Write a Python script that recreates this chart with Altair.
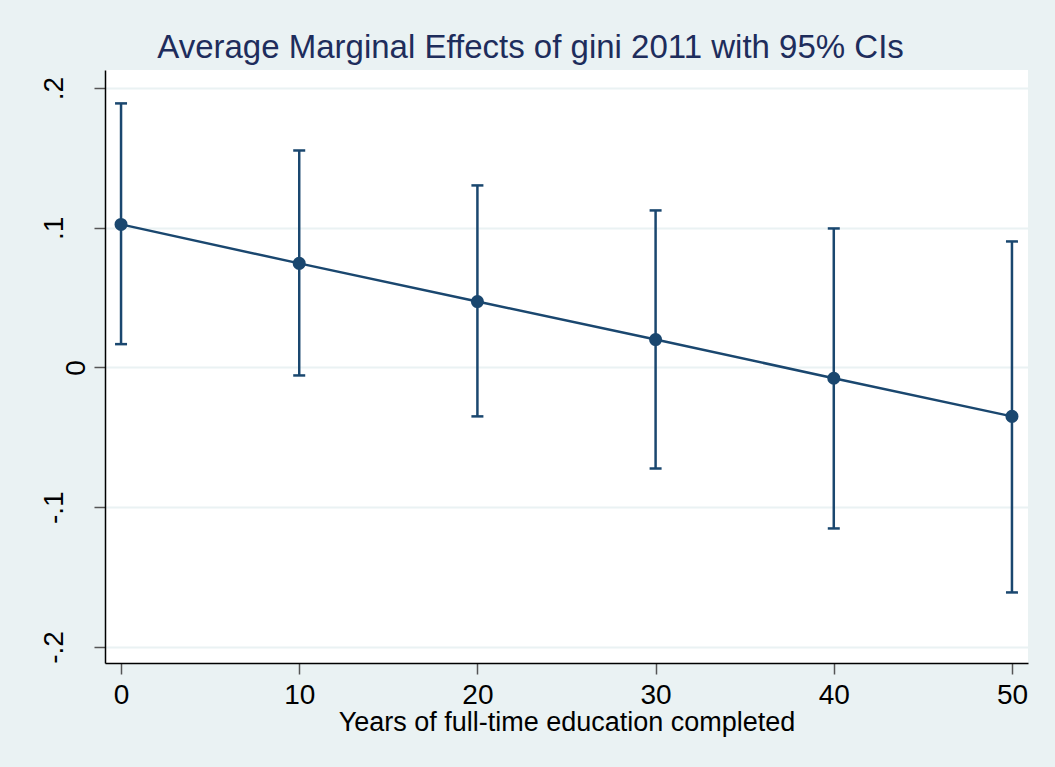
import altair as alt
import pandas as pd

# Years of full-time education completed
years = [0, 10, 20, 30, 40, 50]
# Average marginal effect of gini 2011 and its 95% confidence bounds
margin = [0.1024, 0.0745, 0.0472, 0.0200, -0.0077, -0.0350]
ci_low = [0.0167, -0.0057, -0.0350, -0.0723, -0.1152, -0.1610]
ci_high = [0.1890, 0.1553, 0.1303, 0.1124, 0.0995, 0.0902]

y_ticks = [-0.2, -0.1, 0.0, 0.1, 0.2]
x_ticks = [0, 10, 20, 30, 40, 50]

df = pd.DataFrame({"years": years, "margin": margin, "lo": ci_low, "hi": ci_high})

NAVY = "#1a476f"
TITLE_NAVY = "#1e2d5c"
BG = "#eaf2f3"
FONT = "Liberation Sans"

x_enc = alt.X(
    "years:Q",
    scale=alt.Scale(domain=[-0.9, 50.9], nice=False, zero=False),
    axis=alt.Axis(
        values=x_ticks,
        title="Years of full-time education completed",
        grid=False,
        labelFontSize=28,
        titleFontSize=27,
        labelPadding=7,
        titlePadding=0,
        tickSize=11,
        format="d",
    ),
)
y_scale = alt.Scale(domain=[-0.2115, 0.2129], nice=False, zero=False)

bars = alt.Chart(df).mark_rule(color=NAVY, strokeWidth=2.5).encode(
    x=x_enc,
    y=alt.Y(
        "lo:Q",
        scale=y_scale,
        axis=alt.Axis(
            values=y_ticks,
            title=None,
            grid=True,
            gridColor=BG,
            gridWidth=2,
            labelAngle=270,
            labelAlign="center",
            labelBaseline="bottom",
            labelFontSize=28,
            labelPadding={"condition": {"test": "datum.value == 0", "value": 4}, "value": 26},
            tickSize=11,
            labelExpr="datum.value == 0 ? '0' : (datum.value < 0 ? '-' : '') + replace(format(abs(datum.value), '.1f'), '0.', '.')",
        ),
    ),
    y2="hi:Q",
)

# Caps at both ends of each confidence interval
cap_lo = alt.Chart(df).mark_tick(
    color=NAVY, orient="horizontal", size=12, thickness=2.5, opacity=1
).encode(x="years:Q", y=alt.Y("lo:Q", scale=y_scale))
cap_hi = alt.Chart(df).mark_tick(
    color=NAVY, orient="horizontal", size=12, thickness=2.5, opacity=1
).encode(x="years:Q", y=alt.Y("hi:Q", scale=y_scale))

line = alt.Chart(df).mark_line(color=NAVY, strokeWidth=2.5).encode(
    x="years:Q", y=alt.Y("margin:Q", scale=y_scale)
)
points = alt.Chart(df).mark_circle(color=NAVY, size=170, opacity=1).encode(
    x="years:Q", y=alt.Y("margin:Q", scale=y_scale)
)

chart = (
    alt.layer(bars, cap_lo, cap_hi, line, points)
    .properties(
        width=923,
        height=593,
        background=BG,
        autosize=alt.AutoSizeParams(type="none"),
        padding={"left": 105, "top": 70, "right": 27, "bottom": 104},
        title=alt.TitleParams(
            "Average Marginal Effects of gini 2011 with 95% CIs",
            font=FONT,
            fontSize=33,
            fontWeight="normal",
            color=TITLE_NAVY,
            anchor="middle",
            dx=-36,
            offset=5,
        ),
    )
    .configure_view(fill="white", stroke=None)
    .configure_axis(
        labelFont=FONT,
        titleFont=FONT,
        labelColor="black",
        titleColor="black",
        titleFontWeight="normal",
        domainColor="black",
        domainWidth=1.5,
        tickColor="#555555",
        tickWidth=1.5,
    )
)

chart.save("out.html", embed_options={"renderer": "svg", "actions": False})
